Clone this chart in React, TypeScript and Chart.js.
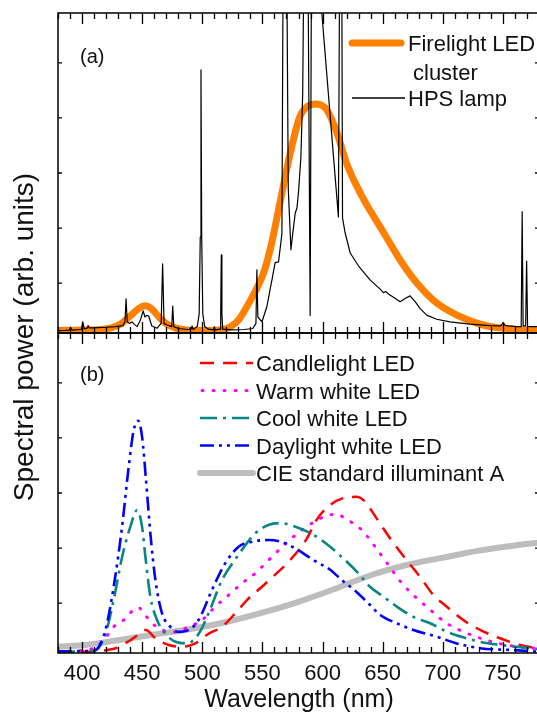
import { useEffect, useRef } from 'react';
import { Chart, registerables } from 'chart.js';

Chart.register(...registerables);

const FONT = '"Liberation Sans", Arial, Helvetica, sans-serif';

// ---- axes ----
const wavelengthMin = 380;
const wavelengthMax = 780;
const xTickLabels = [400, 450, 500, 550, 600, 650, 700, 750];
const yTickValues = [0.156, 0.328, 0.5, 0.672, 0.844];

// ---- panel (a) ----
const firelightNm = [380, 400, 415, 425, 432, 440, 447, 452.5, 458, 464, 470, 478, 488, 500, 512, 518, 523, 530, 537, 544, 551, 557, 565, 573, 581, 588, 595, 603.6, 612, 620, 627, 634.4, 650.6, 664.5, 678.4, 692, 706, 720, 733.4, 747, 761.4, 780];
const firelightPower = [0.008, 0.009, 0.011, 0.017, 0.028, 0.053, 0.076, 0.085, 0.075, 0.05, 0.029, 0.015, 0.009, 0.008, 0.009, 0.012, 0.019, 0.04, 0.082, 0.13, 0.188, 0.27, 0.415, 0.56, 0.675, 0.71, 0.716, 0.697, 0.625, 0.53, 0.47, 0.416, 0.315, 0.228, 0.156, 0.103, 0.067, 0.042, 0.025, 0.016, 0.0116, 0.007];

const hpsNm = [380, 386, 389.5, 390.4, 391.5, 399.5, 400.6, 401.8, 404.2, 405, 406, 410, 420, 428, 434, 435.7, 436.6, 437.6, 439.5, 441.6, 443.5, 445.8, 448.5, 450.8, 452.3, 453.8, 455.4, 458, 462.4, 465.8, 467, 468.2, 470.7, 474.6, 475.4, 476.3, 480, 488, 490.6, 491.5, 492.4, 495.8, 497.4, 498.3, 498.9, 499.5, 500.4, 502, 505, 509.2, 510, 510.8, 514.8, 515.3, 515.8, 516.3, 517, 525, 535, 542, 544.6, 545.4, 546.2, 549.6, 553.7, 557.9, 560.6, 563.4, 566.2, 567.5, 569.8, 571.5, 573.7, 575.5, 577.3, 578.7, 580, 582, 583.5, 585, 587.5, 589.7, 591, 592, 597, 599.4, 606.3, 613.2, 614.5, 615.8, 616.6, 618.8, 623, 629.8, 639.5, 647.9, 650.6, 652.5, 654.8, 659, 664.5, 668.6, 672.8, 677, 681, 686.6, 694.9, 706, 722.6, 739, 748, 750.3, 752, 754.4, 761.4, 765.2, 766, 766.8, 768.9, 769.7, 770.5, 773.9, 780];
const hpsPower = [0.007, 0.008, 0.009, 0.018, 0.009, 0.011, 0.035, 0.013, 0.015, 0.023, 0.016, 0.016, 0.018, 0.02, 0.023, 0.035, 0.107, 0.035, 0.03, 0.035, 0.027, 0.02, 0.04, 0.069, 0.05, 0.055, 0.053, 0.022, 0.015, 0.03, 0.216, 0.03, 0.025, 0.02, 0.084, 0.02, 0.014, 0.011, 0.012, 0.022, 0.011, 0.02, 0.06, 0.3, 0.822, 0.3, 0.06, 0.02, 0.012, 0.01, 0.02, 0.01, 0.012, 0.06, 0.244, 0.06, 0.012, 0.01, 0.011, 0.014, 0.03, 0.197, 0.05, 0.035, 0.082, 0.166, 0.22, 0.222, 0.31, 1.4, 1.4, 0.45, 0.26, 0.32, 0.375, 0.39, 0.44, 0.55, 0.75, 1.4, 1.4, 0.055, 1.4, 1.4, 1.4, 1.0, 0.68, 0.363, 1.4, 1.4, 0.36, 0.3125, 0.25, 0.21, 0.166, 0.137, 0.126, 0.13, 0.122, 0.112, 0.098, 0.108, 0.116, 0.098, 0.077, 0.056, 0.043, 0.035, 0.028, 0.023, 0.022, 0.032, 0.024, 0.022, 0.02, 0.02, 0.379, 0.022, 0.022, 0.225, 0.021, 0.02, 0.02];

// ---- panel (b) ----
const candleNm = [380, 400, 415, 422, 427.8, 433.3, 444.4, 450, 453, 461, 472, 483.2, 494.2, 505.2, 516.4, 527.4, 538.5, 549.6, 560.6, 571.7, 587, 595, 606.3, 620.2, 628.5, 634, 645.1, 656.2, 668.6, 681.1, 692.2, 703.2, 717, 731, 747.6, 764.2, 780];
const candlePower = [0.003, 0.004, 0.006, 0.01, 0.015, 0.025, 0.051, 0.07, 0.072, 0.046, 0.025, 0.02, 0.03, 0.06, 0.082, 0.124, 0.171, 0.207, 0.245, 0.285, 0.358, 0.416, 0.4625, 0.4865, 0.488, 0.478, 0.42, 0.358, 0.296, 0.238, 0.181, 0.145, 0.103, 0.072, 0.046, 0.025, 0.014];

const warmNm = [380, 395, 405, 413.9, 420, 426.3, 434.6, 440, 444.4, 447, 451.3, 458.3, 466.5, 477.6, 488.6, 499.8, 510.8, 521.9, 533, 544, 555, 566, 578, 591, 605, 612, 619, 632.7, 643.7, 654.8, 665.9, 677, 688, 703.2, 719.9, 736.5, 753, 780];
const warmPower = [0.006, 0.007, 0.01, 0.025, 0.05, 0.082, 0.103, 0.125, 0.14, 0.142, 0.124, 0.093, 0.072, 0.066, 0.082, 0.103, 0.145, 0.181, 0.218, 0.249, 0.29, 0.33, 0.37, 0.405, 0.431, 0.433, 0.42, 0.384, 0.332, 0.275, 0.218, 0.176, 0.14, 0.093, 0.062, 0.04, 0.025, 0.013];

const coolNm = [380, 400, 411, 419.5, 426.3, 433.3, 440.2, 445.8, 449.9, 452.7, 456.8, 462.4, 469.3, 477.6, 487.3, 497, 505.2, 516.4, 528.8, 544, 555, 565, 575.8, 592.5, 606.3, 620.2, 629.8, 639.5, 650.6, 661.7, 675.5, 689.4, 703.2, 717, 731, 753, 772.4, 780];
const coolPower = [0.004, 0.005, 0.008, 0.06, 0.166, 0.3, 0.395, 0.447, 0.395, 0.3, 0.176, 0.103, 0.06, 0.035, 0.03, 0.06, 0.124, 0.228, 0.3, 0.374, 0.4, 0.406, 0.397, 0.369, 0.332, 0.285, 0.249, 0.207, 0.176, 0.145, 0.113, 0.093, 0.067, 0.049, 0.035, 0.023, 0.015, 0.012];

const daylightNm = [380, 400, 410, 414, 419.5, 426.3, 433.3, 438.8, 443, 446.6, 449.9, 453.2, 456.8, 461, 466.5, 473.4, 480.3, 488.6, 496.9, 508, 519, 530.2, 541.3, 555, 565, 577.3, 592.5, 606.3, 616, 628.5, 639.5, 647.9, 661.7, 675.5, 694.9, 711.6, 731, 758.6, 780];
const daylightPower = [0.005, 0.006, 0.008, 0.02, 0.072, 0.207, 0.395, 0.582, 0.697, 0.726, 0.676, 0.54, 0.374, 0.228, 0.124, 0.082, 0.066, 0.072, 0.103, 0.197, 0.28, 0.332, 0.348, 0.353, 0.348, 0.327, 0.29, 0.26, 0.228, 0.19, 0.15, 0.119, 0.093, 0.072, 0.051, 0.03, 0.015, 0.009, 0.004];

const cieNm = [380, 400, 430, 460, 490, 520, 550, 580, 610, 640, 670, 700, 730, 760, 780];
const ciePower = [0.02, 0.024, 0.04, 0.058, 0.075, 0.097, 0.126, 0.16, 0.2, 0.243, 0.275, 0.298, 0.32, 0.336, 0.345];

const toPoints = (xs: number[], ys: number[]) => xs.map((x, i) => ({ x, y: ys[i] }));

type LegendItem = { label: string; color: string; width: number; dash: number[]; cap: CanvasLineCap };

const styleCandle: LegendItem = { label: 'Candlelight LED', color: '#ff0000', width: 2.5, dash: [14, 9], cap: 'butt' };
const styleWarm: LegendItem = { label: 'Warm white LED', color: '#ff00ff', width: 3, dash: [1, 10], cap: 'round' };
const styleCool: LegendItem = { label: 'Cool white LED', color: '#0a8585', width: 2.6, dash: [17, 6, 3, 6], cap: 'butt' };
const styleDay: LegendItem = { label: 'Daylight white LED', color: '#0000ff', width: 2.6, dash: [14, 5, 3, 5, 3, 5], cap: 'butt' };
const styleCie: LegendItem = { label: 'CIE standard illuminant A', color: '#bdbdbd', width: 6, dash: [], cap: 'round' };

const decorPlugin = {
  id: 'decor',
  afterDatasetsDraw(chart: any) {
    const ctx: CanvasRenderingContext2D = chart.ctx;
    const xs = chart.scales.x;
    const yT = chart.scales.yTop;
    const yB = chart.scales.yBot;
    const L = chart.chartArea.left;
    const R = chart.chartArea.right;
    const panels = [
      [yT.top, yT.bottom],
      [yB.top, yB.bottom],
    ];
    ctx.save();
    ctx.strokeStyle = '#000';
    ctx.lineWidth = 1.5;
    ctx.setLineDash([]);
    for (const [t, b] of panels) ctx.strokeRect(L, t, R - L, b - t);
    ctx.lineWidth = 1.3;
    ctx.beginPath();
    for (let v = wavelengthMin; v <= wavelengthMax; v += 10) {
      const px = Math.round(xs.getPixelForValue(v)) + 0.5;
      const len = v % 50 === 0 ? 11 : 6;
      for (const [t, b] of panels) {
        ctx.moveTo(px, t);
        ctx.lineTo(px, t + len);
        ctx.moveTo(px, b);
        ctx.lineTo(px, b - len);
      }
    }
    for (const sc of [yT, yB]) {
      for (const v of yTickValues) {
        const py = sc.getPixelForValue(v);
        ctx.moveTo(L, py);
        ctx.lineTo(L + 4, py);
        ctx.moveTo(R, py);
        ctx.lineTo(R - 4, py);
      }
    }
    ctx.stroke();

    // tick labels
    ctx.fillStyle = '#111';
    ctx.font = `22px ${FONT}`;
    ctx.textAlign = 'center';
    ctx.textBaseline = 'alphabetic';
    for (const v of xTickLabels) ctx.fillText(String(v), xs.getPixelForValue(v), yB.bottom + 26.5);

    // axis titles
    ctx.font = `25px ${FONT}`;
    ctx.fillText('Wavelength (nm)', (L + 539) / 2 + 0.5, 707);
    ctx.save();
    ctx.translate(33, (yT.top + yB.bottom) / 2 + 4);
    ctx.rotate(-Math.PI / 2);
    ctx.font = `28px ${FONT}`;
    ctx.fillText('Spectral power (arb. units)', 0, 0);
    ctx.restore();

    // panel labels
    ctx.textAlign = 'left';
    ctx.font = `20px ${FONT}`;
    ctx.fillText('(a)', L + 22, yT.top + 50);
    ctx.fillText('(b)', L + 22, yB.top + 48);

    const line = (x1: number, x2: number, y: number, s: LegendItem) => {
      ctx.save();
      ctx.strokeStyle = s.color;
      ctx.lineWidth = s.width;
      ctx.lineCap = s.cap;
      ctx.setLineDash(s.dash);
      ctx.beginPath();
      ctx.moveTo(x1, y);
      ctx.lineTo(x2, y);
      ctx.stroke();
      ctx.restore();
    };

    // legend (a)
    ctx.font = `22px ${FONT}`;
    line(352, 401, 43, { label: '', color: '#ff8000', width: 7, dash: [], cap: 'round' });
    ctx.fillText('Firelight LED', 408, 51);
    ctx.fillText('cluster', 413, 80);
    line(352, 405, 98, { label: '', color: '#000', width: 1.3, dash: [], cap: 'butt' });
    ctx.fillText('HPS lamp', 408, 106);

    // legend (b)
    const items = [styleCandle, styleWarm, styleCool, styleDay, styleCie];
    items.forEach((s, i) => {
      const base = 371 + i * 27.5;
      line(s.cap === 'round' && s.dash.length ? 202 : 200, 253, base - 8, s);
      ctx.fillStyle = '#111';
      ctx.fillText(s.label, 256, base);
    });
    ctx.restore();
  },
};

export default function App() {
  const ref = useRef<HTMLCanvasElement | null>(null);
  useEffect(() => {
    if (!ref.current) return;
    const mk = (label: string, xs: number[], ys: number[], axis: string, s: any) => ({
      label,
      data: toPoints(xs, ys),
      yAxisID: axis,
      xAxisID: 'x',
      borderColor: s.color,
      borderWidth: s.width,
      borderDash: s.dash || [],
      borderCapStyle: s.cap || 'butt',
      borderJoinStyle: 'round',
      pointRadius: 0,
      fill: false,
      cubicInterpolationMode: s.smooth ? 'monotone' : 'default',
      tension: 0,
    });
    const chart = new Chart(ref.current, {
      type: 'line',
      data: {
        datasets: [
          mk('HPS lamp', hpsNm, hpsPower, 'yTop', { color: '#000', width: 1.2 }),
          mk('Firelight LED cluster', firelightNm, firelightPower, 'yTop', { color: '#ff8000', width: 7, cap: 'round', smooth: true }),
          mk(styleDay.label, daylightNm, daylightPower, 'yBot', { ...styleDay, smooth: true }),
          mk(styleCool.label, coolNm, coolPower, 'yBot', { ...styleCool, smooth: true }),
          mk(styleWarm.label, warmNm, warmPower, 'yBot', { ...styleWarm, smooth: true }),
          mk(styleCandle.label, candleNm, candlePower, 'yBot', { ...styleCandle, smooth: true }),
          mk(styleCie.label, cieNm, ciePower, 'yBot', { ...styleCie, smooth: true }),
        ] as any,
      },
      options: {
        animation: false,
        responsive: false,
        maintainAspectRatio: false,
        events: [],
        layout: { padding: { left: 58, right: 2, top: 13, bottom: 60 } },
        plugins: { legend: { display: false }, tooltip: { enabled: false } },
        scales: {
          x: { type: 'linear', min: wavelengthMin, max: wavelengthMax, display: false },
          yBot: { type: 'linear', min: 0, max: 1, display: false, position: 'left', stack: 'panels', stackWeight: 1 },
          yTop: { type: 'linear', min: 0, max: 1, display: false, position: 'left', stack: 'panels', stackWeight: 1 },
        },
      } as any,
      plugins: [decorPlugin],
    });
    return () => chart.destroy();
  }, []);
  return (
    <div style={{ position: 'fixed', left: 0, top: 0, width: 537, height: 713, overflow: 'hidden', background: '#fff' }}>
      <canvas ref={ref} width={541} height={713} style={{ width: 541, height: 713, display: 'block' }} />
    </div>
  );
}
